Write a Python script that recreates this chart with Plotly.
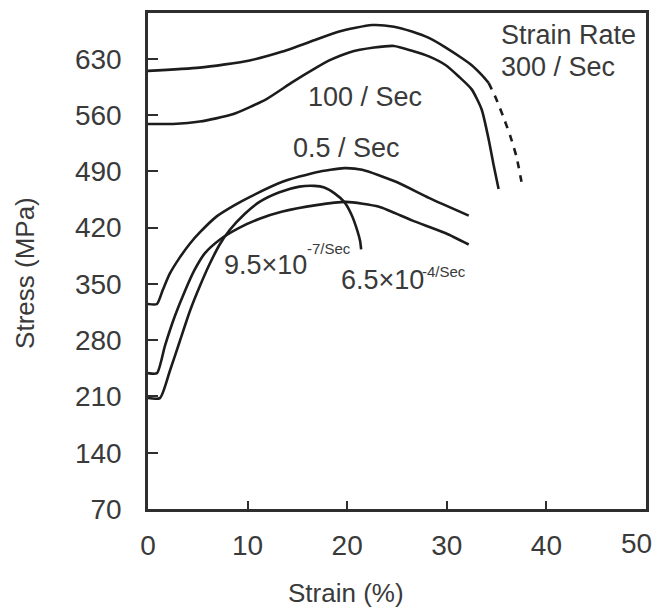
import plotly.graph_objects as go

# Stress-strain curves at different strain rates (strain in %, stress in MPa)
strain_300 = [0, 5.2, 10.2, 13.5, 16.9, 19.2, 22.5, 24.7, 26.5, 28.2, 29.9, 31.5, 32.5, 33.5, 34.2]
stress_300 = [615, 619, 628, 639, 654, 664, 672, 670, 664, 656, 644, 631, 622, 610, 600]

strain_300_tail = [34.2, 34.9, 35.7, 36.4, 37.0, 37.5]
stress_300_tail = [600, 582, 557, 533, 508, 477]

strain_100 = [0, 2.5, 5.2, 8.5, 11.9, 14.5, 16.9, 18.2, 20.2, 22.7, 24.7, 26.5, 28.2, 29.9,
              31.2, 32.5, 33.5, 34.2, 34.7, 35.2]
stress_100 = [549, 549, 552, 561, 580, 601, 619, 628, 638, 644, 646, 640, 633, 622,
              608, 592, 567, 530, 498, 468]

strain_05 = [0, 0.9, 1.5, 2.2, 3.2, 4.2, 5.2, 6.9, 8.7, 10.2, 13.5, 16.9, 19.7, 21.5, 24.9, 28.2, 32.2]
stress_05 = [325, 325, 343, 363, 383, 400, 414, 434, 448, 458, 477, 489, 494, 492, 477, 457, 435]

strain_65e4 = [0, 0.9, 1.7, 2.7, 3.7, 4.7, 5.7, 7.2, 9.2, 11.2, 13.5, 16.9, 19.9, 23.2, 26.5, 29.9, 32.2]
stress_65e4 = [239, 239, 273, 310, 341, 368, 388, 405, 420, 431, 440, 448, 452, 446, 429, 413, 399]

strain_95e7 = [0, 1.2, 2.2, 3.2, 4.2, 5.2, 6.2, 7.2, 8.2, 9.7, 11.2, 13.2, 15.2, 16.7, 17.7,
               18.7, 19.7, 20.4, 21.0, 21.3, 21.4]
stress_95e7 = [208, 208, 242, 279, 316, 347, 375, 399, 417, 437, 452, 464, 471, 472, 470,
               463, 452, 437, 417, 403, 393]

x_ticks = [0, 10, 20, 30, 40, 50]
y_ticks = [70, 140, 210, 280, 350, 420, 490, 560, 630]

LINE = "#1c1c1c"
TEXT = "#3a3a3a"
FONT = "Liberation Sans, Arial, sans-serif"

fig = go.Figure()

solid_curves = [
    (strain_300, stress_300),
    (strain_100, stress_100),
    (strain_05, stress_05),
    (strain_65e4, stress_65e4),
    (strain_95e7, stress_95e7),
]
for xs, ys in solid_curves:
    fig.add_trace(go.Scatter(
        x=xs, y=ys, mode="lines",
        line=dict(color=LINE, width=2.6, shape="spline", smoothing=0.6),
        showlegend=False, hoverinfo="skip",
    ))

fig.add_trace(go.Scatter(
    x=strain_300_tail, y=stress_300_tail, mode="lines",
    line=dict(color=LINE, width=2.6, dash="7px,7px", shape="spline", smoothing=0.6),
    showlegend=False, hoverinfo="skip",
))

big = dict(family=FONT, size=27, color=TEXT)
small = dict(family=FONT, size=15, color=TEXT)

labels = [
    ("Strain Rate", 35.2, 660, "left", big),
    ("300 / Sec", 35.2, 620, "left", big),
    ("100 / Sec", 21.8, 582, "center", big),
    ("0.5 / Sec", 19.9, 519, "center", big),
    ("9.5×10", 7.4, 374, "left", big),
    ("-7/Sec", 15.8, 394, "left", small),
    ("6.5×10", 19.2, 355, "left", big),
    ("-4/Sec", 27.3, 366, "left", small),
]
for text, x, y, anchor, font in labels:
    fig.add_annotation(
        x=x, y=y, xref="x", yref="y", text=text, showarrow=False,
        xanchor=anchor, yanchor="middle", font=font,
    )

# Axis titles
fig.add_annotation(
    x=(25 - 148) / 500, y=(509 - 271) / 499, xref="paper", yref="paper",
    text="Stress (MPa)", textangle=-90, showarrow=False,
    xanchor="center", yanchor="middle", font=dict(family=FONT, size=26, color=TEXT),
)
fig.add_annotation(
    x=(347 - 148) / 500, y=(509 - 594) / 499, xref="paper", yref="paper",
    text="Strain (%)", showarrow=False,
    xanchor="center", yanchor="middle", font=dict(family=FONT, size=26, color=TEXT),
)

tick_font = dict(family=FONT, size=28, color=TEXT)

# The last x tick label sits just inside the right edge of the frame
x_ticktext = [str(v) for v in x_ticks[:-1]] + [""]
fig.add_annotation(
    x=(638 - 148) / 500, y=(509 - 544) / 499, xref="paper", yref="paper",
    text=str(x_ticks[-1]), showarrow=False,
    xanchor="center", yanchor="middle", font=tick_font,
)

axis_common = dict(
    showline=True, linecolor="#2e2e2e", linewidth=2.5, mirror=True,
    showgrid=False, zeroline=False,
    ticks="inside", tickcolor="#2e2e2e", tickwidth=2,
    tickfont=tick_font,
)

fig.update_xaxes(
    range=[0, 50], tickvals=x_ticks, ticktext=x_ticktext,
    ticklen=8, ticklabelstandoff=10, **axis_common,
)
fig.update_yaxes(
    range=[70, 687], tickvals=y_ticks, ticktext=[str(v) for v in y_ticks],
    ticklen=10, ticklabelstandoff=18, **axis_common,
)

fig.update_layout(
    width=659, height=615,
    margin=dict(l=148, r=11, t=10, b=106),
    paper_bgcolor="white", plot_bgcolor="white",
)

fig.write_html("out.html")
